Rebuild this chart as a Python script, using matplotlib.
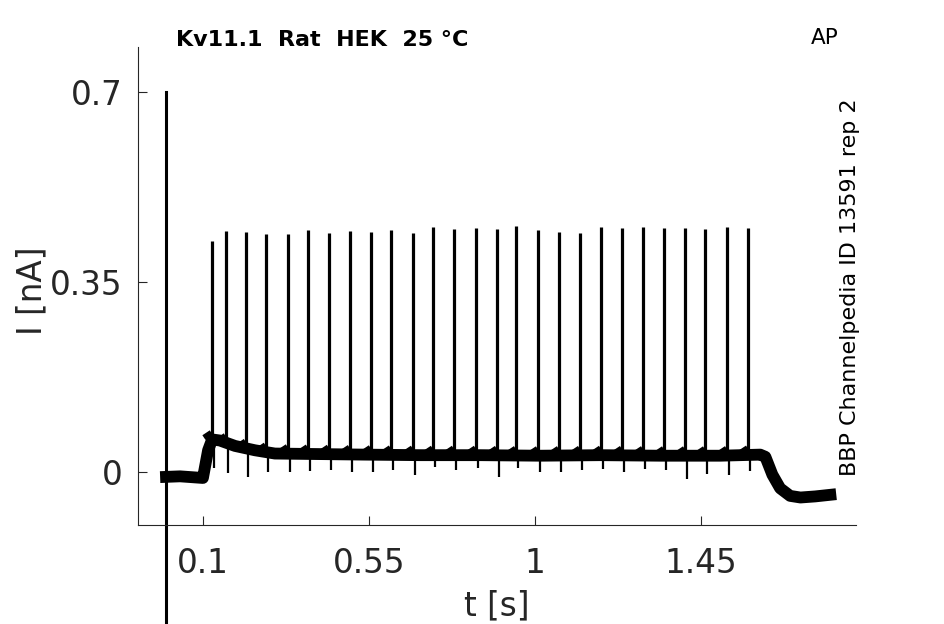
import numpy as np
import matplotlib
matplotlib.use('Agg')
import matplotlib.pyplot as plt

base_t = [0.0, 0.038, 0.079, 0.100, 0.114, 0.125, 0.146, 0.187, 0.241, 0.295,
          0.417, 0.539, 0.689, 0.851, 1.014, 1.176, 1.339, 1.502, 1.610, 1.624,
          1.643, 1.664, 1.691, 1.719, 1.759, 1.800]
base_i = [-0.009, -0.008, -0.010, -0.011, 0.040, 0.060, 0.058, 0.048, 0.040, 0.034,
          0.033, 0.032, 0.031, 0.031, 0.030, 0.031, 0.030, 0.030, 0.032, 0.028,
          -0.005, -0.030, -0.044, -0.047, -0.045, -0.042]

# spikes: time, peak, dip right after
spike_t = [0.1247, 0.1626, 0.2169, 0.2711, 0.3307, 0.3849, 0.4419, 0.4988, 0.5557,
           0.6099, 0.6696, 0.7238, 0.7807, 0.8403, 0.8973, 0.9488, 1.0084, 1.0653,
           1.1223, 1.1792, 1.2361, 1.2931, 1.3500, 1.4069, 1.4611, 1.5207, 1.5777]
spike_peak = [0.4255, 0.4439, 0.4421, 0.4393, 0.4384, 0.4467, 0.4402, 0.4439, 0.4421,
              0.4458, 0.4408, 0.4513, 0.4476, 0.4494, 0.4476, 0.4537, 0.4458, 0.4421,
              0.4402, 0.4513, 0.4494, 0.4513, 0.4494, 0.4494, 0.4476, 0.4513, 0.4494]
spike_dip = [0.008, -0.002, -0.010, 0.000, 0.000, 0.002, 0.003, 0.000, 0.000,
             0.004, -0.005, 0.010, 0.004, 0.008, -0.009, 0.007, 0.000, 0.000,
             0.003, 0.006, 0.000, 0.006, 0.003, -0.013, -0.004, -0.005, 0.002]

xticks = [0.1, 0.55, 1, 1.45]
xtick_labels = ['0.1', '0.55', '1', '1.45']
yticks = [0, 0.35, 0.7]
ytick_labels = ['0', '0.35', '0.7']

fig = plt.figure(figsize=(9.45, 6.24), dpi=100)
ax = fig.add_axes([0.146, 0.1587, 0.760, 0.766])

ax.plot(base_t, base_i, color='black', lw=8.5, solid_joinstyle='round')
spike_t = np.array(spike_t)
spike_base = np.interp(spike_t, base_t, base_i)
ax.vlines(spike_t, spike_base, spike_peak, color='black', lw=2.3)
ax.vlines(spike_t + 0.004, spike_dip, spike_base, color='black', lw=1.6)
# slow rise of the current before every spike
for t, b in zip(spike_t, spike_base):
    ax.plot([t - 0.022, t - 0.002], [b + 0.004, b + 0.013], color='black', lw=4,
            solid_capstyle='butt')

# marker line at t = 0
ax.plot([0, 0], [0.7, -0.4], color='black', lw=2.2, clip_on=False)

ax.set_xlim(-0.076, 1.87)
ax.set_ylim(-0.0976, 0.783)

for s in ['top', 'right']:
    ax.spines[s].set_visible(False)
for s in ['left', 'bottom']:
    ax.spines[s].set_color('#262626')
    ax.spines[s].set_linewidth(0.8)

ax.set_xticks(xticks)
ax.set_xticklabels(xtick_labels)
ax.set_yticks(yticks)
ax.set_yticklabels(ytick_labels)
ax.tick_params(direction='in', length=6.5, width=0.8, color='#262626',
               labelcolor='#262626', labelsize=23.5)
ax.tick_params(axis='x', pad=16)
ax.tick_params(axis='y', pad=11)

ax.set_xlabel('t [s]', fontsize=23.5, color='#262626', va='center')
ax.set_ylabel('I [nA]', fontsize=23.5, color='#262626', va='center')
ax.xaxis.set_label_coords(0.5, -0.169)
ax.yaxis.set_label_coords(-0.148, 0.49)

fig.text(176 / 945, 1 - 40 / 624, 'Kv11.1  Rat  HEK  25 °C', fontsize=16,
         fontweight='bold', ha='left', va='center')
fig.text(825 / 945, 1 - 38 / 624, 'AP', fontsize=15.5, ha='center', va='center')
fig.text(850 / 945, 1 - 287 / 624, 'BBP Channelpedia ID 13591 rep 2', fontsize=16,
         rotation=90, ha='center', va='center')

fig.savefig('out.png', dpi=100)
